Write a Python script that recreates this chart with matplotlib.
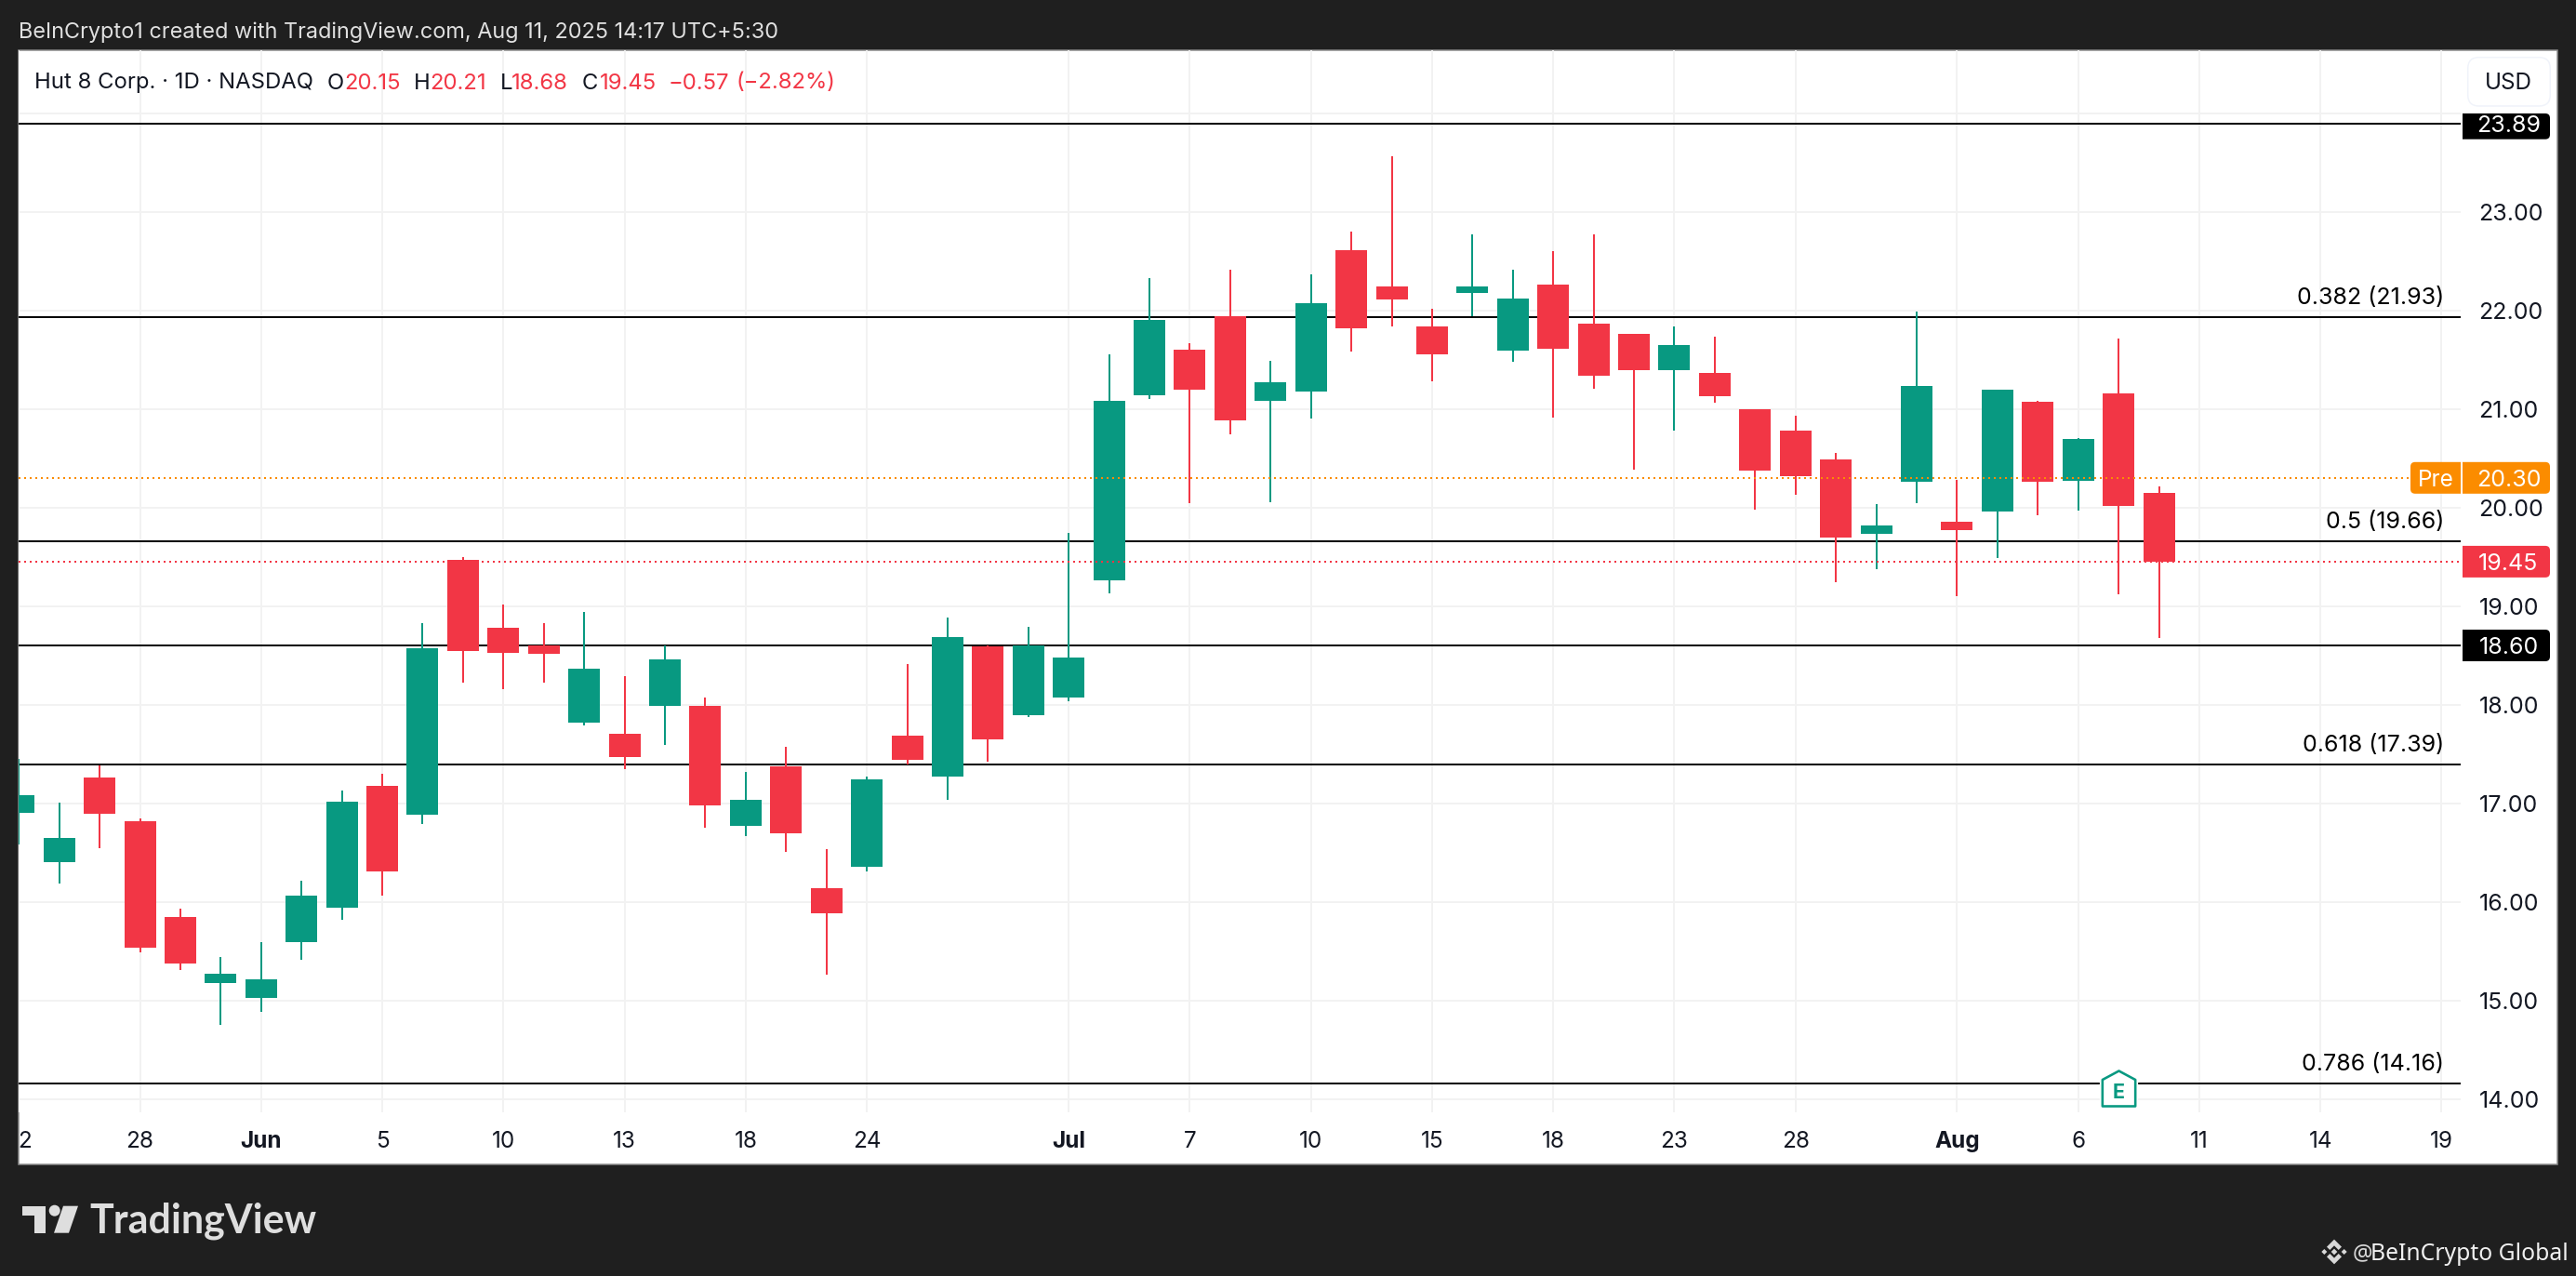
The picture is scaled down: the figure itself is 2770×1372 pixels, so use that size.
import matplotlib
matplotlib.use("Agg")
import matplotlib.pyplot as plt
from matplotlib.path import Path
from matplotlib.patches import PathPatch, Rectangle, Circle, Polygon, FancyBboxPatch
from matplotlib.transforms import IdentityTransform

# ---------- data ----------
bar_index = list(range(-3, 51))
opens = [16.90,16.40,17.262,16.817,15.845,15.176,15.023,15.592,15.939,17.174,16.882,19.468,18.779,18.60,17.817,
         17.703,17.986,17.986,16.771,17.372,16.138,16.355,17.684,17.27,18.59,17.892,18.072,19.26,21.138,21.60,
         21.939,21.08,21.177,22.61,22.242,21.834,22.177,21.592,22.26,21.863,21.762,21.392,21.364,20.996,20.779,
         20.487,19.732,20.26,19.855,19.958,21.072,20.27,21.157,20.15]
closes = [17.08,16.648,16.891,15.533,15.374,15.270,15.212,16.063,17.015,16.306,18.571,18.542,18.525,18.516,18.363,
          17.466,18.457,16.976,17.034,16.693,15.884,17.242,17.44,18.685,17.647,18.60,18.477,21.08,21.903,21.195,
          20.885,21.271,22.073,21.816,22.109,21.553,22.242,22.12,21.61,21.336,21.394,21.647,21.128,20.374,20.317,
          19.694,19.817,21.232,19.77,21.194,20.26,20.694,20.015,19.45]
highs = [17.45,17.005,17.382,16.846,15.93,15.439,15.592,16.212,17.128,17.297,18.828,19.497,19.016,18.828,18.938,
         18.288,18.60,18.071,17.317,17.57,16.534,17.268,18.412,18.883,18.60,18.789,19.741,21.553,22.325,21.665,
         22.412,21.488,22.365,22.798,23.564,22.015,22.769,22.412,22.60,22.769,21.762,21.836,21.732,20.996,20.93,
         20.553,20.034,21.987,20.279,21.194,21.081,20.704,21.713,20.21]
lows = [16.58,16.186,16.544,15.488,15.309,14.75,14.883,15.41,15.816,16.063,16.787,18.223,18.155,18.223,17.788,
        17.346,17.59,16.752,16.667,16.505,15.26,16.306,17.388,17.034,17.421,17.873,18.034,19.127,21.10,20.044,
        20.74,20.054,20.903,21.582,21.834,21.28,21.935,21.477,20.91,21.203,20.383,20.779,21.062,19.977,20.128,
        19.242,19.374,20.043,19.10,19.487,19.921,19.968,19.119,18.68]

fib_levels = [23.89, 21.93, 19.66, 18.60, 17.39, 14.16]
fib_labels = ["", "0.382 (21.93)", "0.5 (19.66)", "", "0.618 (17.39)", "0.786 (14.16)"]
last_close = 19.45
premarket = 20.30
earnings_bar = 49
earnings_price = 14.114

price_ticks = [14, 15, 16, 17, 18, 19, 20, 21, 22, 23, 24]
price_labels = ["14.00","15.00","16.00","17.00","18.00","19.00","20.00","21.00","22.00","23.00",""]
date_ticks = [-3, 0, 3, 6, 9, 12, 15, 18, 23, 26, 29, 32, 35, 38, 41, 45, 48, 51, 54, 57]
date_labels = ["22","28","Jun","5","10","13","18","24","Jul","7","10","15","18","23","28","Aug","6","11","14","19"]
bold_dates = {"Jun", "Jul", "Aug"}

# ---------- style ----------
W, H = 2770, 1372
BG = "#1f1f1f"
GREEN = "#089981"
RED = "#F23645"
ORANGE = "#FB8C00"
INK = "#131722"
GRID = "#F2F2F2"
plt.rcParams["font.family"] = ["Inter", "DejaVu Sans"]
PX = 0.72  # points per pixel at dpi 100
FS = 18

fig = plt.figure(figsize=(W / 100, H / 100), dpi=100, facecolor=BG)
PL, PR, PT, PB = 20.3, 2646.0, 54.0, 1196.0
ax = fig.add_axes([PL / W, 1 - PB / H, (PR - PL) / W, (PB - PT) / H])
ax.set_facecolor("none")
for s in ax.spines.values():
    s.set_visible(False)
# 43.42 px per bar, bar 0 at x=150.5 px; 106 px per unit, 20.00 at y=545.6 px
ax.set_xlim((PL - 150.5) / 43.42, (PR - 150.5) / 43.42)
ax.set_ylim(20 - (PB - 545.6) / 106, 20 + (545.6 - PT) / 106)


def tx(x, y, s, **kw):
    return fig.text(x / W, 1 - y / H, s, **kw)


def py(v):
    """display y for a price"""
    return ax.transData.transform((0, v))[1]


def rounded_box(x0, x1, y0, y1, side="right", r=5, **kw):
    """box in display coords; rounded on one side"""
    if side == "right":
        v = [(x0, y0), (x1 - r, y0), (x1, y0), (x1, y0 + r), (x1, y1 - r), (x1, y1), (x1 - r, y1), (x0, y1), (x0, y0)]
    else:
        v = [(x1, y0), (x0 + r, y0), (x0, y0), (x0, y0 + r), (x0, y1 - r), (x0, y1), (x0 + r, y1), (x1, y1), (x1, y0)]
    c = [Path.MOVETO, Path.LINETO, Path.CURVE3, Path.CURVE3, Path.LINETO, Path.CURVE3, Path.CURVE3, Path.LINETO, Path.CLOSEPOLY]
    p = PathPatch(Path(v, c), transform=IdentityTransform(), linewidth=0, **kw)
    fig.add_artist(p)
    return p


# white panel with gray hairline
fig.add_artist(Rectangle((20 / W, 1 - 1252 / H), (2750 - 20) / W, (1252 - 54) / H, transform=fig.transFigure,
                         facecolor="white", edgecolor="#8c8c8c", linewidth=1.5 * PX, zorder=-1))

# grid and ticks
ax.set_xticks(date_ticks)
ax.set_xticklabels(date_labels)
ax.set_yticks(price_ticks)
ax.set_yticklabels(price_labels)
ax.yaxis.tick_right()
ax.grid(True, color=GRID, linewidth=2 * PX, zorder=0)
ax.set_axisbelow(True)
ax.tick_params(axis="both", length=0, labelcolor=INK)
ax.tick_params(axis="x", labelsize=17.5, pad=14.5)
ax.tick_params(axis="y", labelsize=FS, pad=14)
clip = Rectangle((20, 0), W, H, transform=IdentityTransform())
for lab in ax.get_xticklabels():
    lab.set_clip_path(clip)
    lab.set_clip_on(True)
    if lab.get_text() in bold_dates:
        lab.set_fontweight("bold")

# fib levels
for lv, lb in zip(fib_levels, fib_labels):
    ax.axhline(lv, color="black", linewidth=2 * PX, zorder=1.5)
    if lb:
        ax.annotate(lb, xy=(1, lv), xycoords=("axes fraction", "data"), xytext=(-18, 23),
                    textcoords="offset pixels", ha="right", va="center_baseline", fontsize=FS, color="black", zorder=6)

# candles
up = [c >= o for o, c in zip(opens, closes)]
colors = [GREEN if u else RED for u in up]
ax.vlines(bar_index, lows, highs, colors=colors, linewidth=2 * PX, zorder=3)
ax.bar(bar_index, [abs(c - o) for o, c in zip(opens, closes)], bottom=[min(o, c) for o, c in zip(opens, closes)],
       width=34 / 43.42, color=colors, linewidth=0, zorder=3.2)

# dotted price lines
ax.axhline(premarket, color=ORANGE, linewidth=2 * PX, linestyle=(0, (1, 2)), zorder=4)
ax.axhline(last_close, color=RED, linewidth=2 * PX, linestyle=(0, (1, 2)), zorder=4)

# earnings flag
flag = Path([(-0.93, -1), (0.93, -1), (0.93, 0.5), (0, 1), (-0.93, 0.5), (-0.93, -1)],
            [Path.MOVETO, Path.LINETO, Path.LINETO, Path.LINETO, Path.LINETO, Path.CLOSEPOLY])
ax.plot([earnings_bar], [earnings_price], marker=flag, ms=38 * PX, mfc="white", mec="white", mew=6 * PX, zorder=5, clip_on=False)
ax.plot([earnings_bar], [earnings_price], marker=flag, ms=38 * PX, mfc="white", mec=GREEN, mew=2.6 * PX, zorder=5.1, clip_on=False)
ax.annotate("E", xy=(earnings_bar, earnings_price), xytext=(0, -3), textcoords="offset pixels", ha="center",
            va="center_baseline", fontsize=15.5, fontweight="bold", color=GREEN, zorder=5.2)

# price axis flags
LX0, LX1 = 2648, 2742
FLAG_C = 2697.5
rounded_box(LX0, LX1, H - 149.7, H - 122, facecolor="black", zorder=3)
tx(FLAG_C, 132.7, "23.89", ha="center", va="center_baseline", fontsize=FS, color="white", zorder=4)
for val, txt, col in [(18.60, "18.60", "black"), (last_close, "19.45", RED), (premarket, "20.30", ORANGE)]:
    rounded_box(LX0, LX1, py(val) - 17, py(val) + 17, facecolor=col, zorder=3)
    tx(FLAG_C, H - py(val), txt, ha="center", va="center_baseline", fontsize=FS, color="white", zorder=4)
rounded_box(2592, 2646, py(premarket) - 17, py(premarket) + 17, side="left", facecolor=ORANGE, zorder=3)
tx(2619, H - py(premarket), "Pre", ha="center", va="center_baseline", fontsize=17.5, color="white", zorder=4)

# USD button
fig.add_artist(FancyBboxPatch((2653.7 + 10, H - 114 + 10), 88.6 - 20, 52.3 - 20, boxstyle="round,pad=10,rounding_size=12",
                              transform=IdentityTransform(), facecolor="white", edgecolor="#F0F3FA", linewidth=1.5 * PX, zorder=3))
tx(FLAG_C, 87.3, "USD", ha="center", va="center_baseline", fontsize=17.5, color=INK, zorder=4)

# header
tx(20.4, 32.5, "BeInCrypto1 created with TradingView.com, Aug 11, 2025 14:17 UTC+5:30", ha="left", va="center_baseline",
   fontsize=16.9, color="#E0E0E0")

# legend row
legend_parts = [(37, "Hut 8 Corp. · 1D · NASDAQ", INK), (352, "O", INK), (370, "20.15", RED), (444.5, "H", INK),
                (462, "20.21", RED), (537.6, "L", INK), (549.7, "18.68", RED), (626, "C", INK), (644.8, "19.45", RED),
                (719, "−0.57", RED), (791, "(−2.82%)", RED)]
for x, s, c in legend_parts:
    tx(x, 87, s, ha="left", va="center_baseline", fontsize=17.2, color=c, zorder=4)

# TradingView logo
LOGO = "#DEDEDE"
fig.add_artist(Polygon([(24, H - 1296.7), (48.5, H - 1296.7), (48.5, H - 1325.7), (36.7, H - 1325.7), (36.7, H - 1306.7), (24, H - 1306.7)],
                       transform=IdentityTransform(), facecolor=LOGO, linewidth=0))
fig.add_artist(Circle((58.7, H - 1301.7), 6.0, transform=IdentityTransform(), facecolor=LOGO, linewidth=0))
fig.add_artist(Polygon([(68, H - 1296.7), (84, H - 1296.7), (74, H - 1325.7), (58, H - 1325.7)],
                       transform=IdentityTransform(), facecolor=LOGO, linewidth=0))
tx(96, 1325.7, "TradingView", ha="left", va="baseline", fontsize=31, fontfamily="Lato", fontweight="bold", color=LOGO)

# BeInCrypto credit
cx, cy = 2510, H - 1346
s = 1 / 3
for pts in ([(0, 40), (24, 16), (14, 6), (0, 20), (-14, 6), (-24, 16)],
            [(0, -40), (24, -16), (14, -6), (0, -20), (-14, -6), (-24, -16)],
            [(0, 10), (10, 0), (0, -10), (-10, 0)],
            [(32, 9), (41, 0), (32, -9), (23, 0)],
            [(-32, 9), (-23, 0), (-32, -9), (-41, 0)]):
    fig.add_artist(Polygon([(cx + a * s, cy + b * s) for a, b in pts], transform=IdentityTransform(), facecolor="#D8D8D8", linewidth=0))
tx(2529.5, 1345.7, "@", ha="left", va="center_baseline", fontsize=17.3, fontfamily="Noto Sans", color="#D8D8D8")
tx(2762, 1345.7, "BeInCrypto Global", ha="right", va="center_baseline", fontsize=17.8, fontfamily="Noto Sans", color="#F0F0F0")

fig.savefig("out.png", dpi=100, facecolor=BG)
